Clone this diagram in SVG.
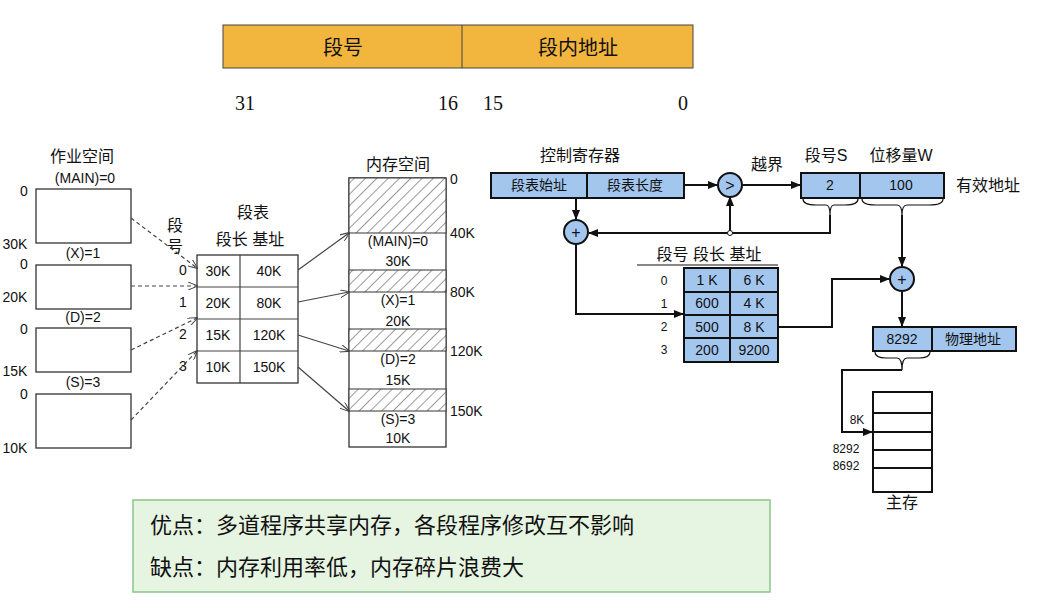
<svg xmlns="http://www.w3.org/2000/svg" width="1050" height="616" viewBox="0 0 1050 616">
<style>
text{font-family:"Liberation Sans","Noto Sans CJK SC",sans-serif;fill:#111;text-anchor:middle}
.s{font-size:14px}.m{font-size:16px}.b{font-weight:bold}
.box{fill:#fff;stroke:#333;stroke-width:1.3}
.blue{fill:#a3c6ee;stroke:#111;stroke-width:2}
.ln{stroke:#111;stroke-width:2;fill:none}
.thin{stroke:#444;stroke-width:1.2;fill:none}
.dash{stroke:#444;stroke-width:1.2;fill:none;stroke-dasharray:4 3}
</style>
<defs>
<pattern id="h" width="8" height="8" patternUnits="userSpaceOnUse" patternTransform="rotate(45)"><rect width="8" height="8" fill="#fff"/><line x1="0" y1="0" x2="0" y2="8" stroke="#555" stroke-width="1.2"/></pattern>
<marker id="a" markerWidth="10" markerHeight="8" refX="9" refY="4" orient="auto" markerUnits="userSpaceOnUse"><path d="M0,0L10,4L0,8z" fill="#111"/></marker>
<marker id="o" markerWidth="10" markerHeight="8" refX="9" refY="4" orient="auto" markerUnits="userSpaceOnUse"><path d="M0,0L10,4L0,8" fill="none" stroke="#444"/></marker>
</defs>
<rect width="1050" height="616" fill="#fff"/>
<g id="format">
<rect x="223" y="25" width="470" height="43" fill="#f2b53e" stroke="#444"/>
<line x1="462" y1="25" x2="462" y2="68" stroke="#444"/>
<text x="343" y="55" style="font-size:20px">段号</text>
<text x="578" y="55" style="font-size:20px">段内地址</text>
<text x="245" y="110" style="font-family:'Liberation Serif',serif;font-size:20px">31</text><text x="448" y="110" style="font-family:'Liberation Serif',serif;font-size:20px">16</text><text x="493" y="110" style="font-family:'Liberation Serif',serif;font-size:20px">15</text><text x="683" y="110" style="font-family:'Liberation Serif',serif;font-size:20px">0</text>
</g>
<g id="jobspace" class="s">
<text x="82" y="162" class="m">作业空间</text>
<text x="85" y="183">(MAIN)=0</text>
<rect class="box" x="36" y="189" width="95" height="54"/>
<text x="83" y="258">(X)=1</text>
<rect class="box" x="36" y="265" width="95" height="44"/>
<text x="83" y="322">(D)=2</text>
<rect class="box" x="36" y="328" width="95" height="44"/>
<text x="83" y="387">(S)=3</text>
<rect class="box" x="36" y="394" width="95" height="54"/>
<text x="24" y="196">0</text><text x="15" y="249">30K</text>
<text x="24" y="269">0</text><text x="15" y="302">20K</text>
<text x="24" y="334">0</text><text x="15" y="376">15K</text>
<text x="24" y="399">0</text><text x="15" y="453">10K</text>
</g>
<g id="segtable" class="s">
<text x="253" y="218" class="m">段表</text>
<text x="250" y="245" class="m">段长 基址</text>
<text x="175" y="231" class="m">段</text><text x="175" y="252" class="m">号</text>
<rect class="box" x="197" y="255" width="101" height="128"/>
<line class="thin" x1="240" y1="255" x2="240" y2="383"/>
<line class="thin" x1="197" y1="287" x2="298" y2="287"/><line class="thin" x1="197" y1="319" x2="298" y2="319"/><line class="thin" x1="197" y1="351" x2="298" y2="351"/>
<text x="183" y="275">0</text><text x="183" y="307">1</text><text x="183" y="339">2</text><text x="183" y="371">3</text>
<text x="218" y="276">30K</text><text x="269" y="276">40K</text>
<text x="218" y="308">20K</text><text x="269" y="308">80K</text>
<text x="218" y="340">15K</text><text x="269" y="340">120K</text>
<text x="218" y="372">10K</text><text x="269" y="372">150K</text>
</g>
<g id="memory" class="s">
<text x="398" y="170" class="m">内存空间</text>
<rect class="box" x="349" y="178" width="97" height="269"/>
<rect x="349" y="178" width="97" height="55" fill="url(#h)" stroke="#333"/>
<rect x="349" y="270" width="97" height="22" fill="url(#h)" stroke="#333"/>
<rect x="349" y="329" width="97" height="22" fill="url(#h)" stroke="#333"/>
<rect x="349" y="389" width="97" height="22" fill="url(#h)" stroke="#333"/>
<text x="398" y="246">(MAIN)=0</text><text x="398" y="266">30K</text>
<text x="398" y="305">(X)=1</text><text x="398" y="326">20K</text>
<text x="398" y="364">(D)=2</text><text x="398" y="385">15K</text>
<text x="398" y="424">(S)=3</text><text x="398" y="443">10K</text>
<text x="450" y="184" style="text-anchor:start">0</text><text x="450" y="238" style="text-anchor:start">40K</text><text x="450" y="297" style="text-anchor:start">80K</text><text x="450" y="356" style="text-anchor:start">120K</text><text x="450" y="416" style="text-anchor:start">150K</text>
</g>
<g id="connectors">
<path class="dash" d="M131,218L197,268" marker-end="url(#o)"/>
<path class="dash" d="M131,286L197,286" marker-end="url(#o)"/>
<path class="dash" d="M131,350L197,318" marker-end="url(#o)"/>
<path class="dash" d="M131,420L197,351" marker-end="url(#o)"/>
<path class="thin" d="M298,270L349,233" marker-end="url(#o)"/>
<path class="thin" d="M298,302L349,292" marker-end="url(#o)"/>
<path class="thin" d="M298,335L349,351" marker-end="url(#o)"/>
<path class="thin" d="M298,367L349,411" marker-end="url(#o)"/>
<path class="ln" d="M684,185L717,185" marker-end="url(#a)"/>
<path class="ln" d="M742,185L800,185" marker-end="url(#a)"/>
<path class="ln" d="M830,215L830,233L589,233" marker-end="url(#a)"/>
<path class="ln" d="M730,233L730,197" marker-end="url(#a)"/>
<circle cx="730" cy="233" r="2.5" fill="#fff" stroke="#111"/>
<path class="ln" d="M576,198L576,219" marker-end="url(#a)"/>
<path class="ln" d="M576,245L576,314L683,314" marker-end="url(#a)"/>
<path class="ln" d="M778,327L832,327L832,279L889,279" marker-end="url(#a)"/>
<path class="ln" d="M902,215L902,266" marker-end="url(#a)"/>
<path class="ln" d="M902,292L902,326" marker-end="url(#a)"/>
<path class="ln" d="M902,370L842,370L842,432L872,432" marker-end="url(#a)"/>
<path class="thin" style="stroke:#111" d="M803,199Q803,205 816,205L826,205Q830,205 830,215Q830,205 834,205L845,205Q858,205 858,199"/>
<path class="thin" style="stroke:#111" d="M862,199Q862,205 876,205L897,205Q902,205 902,215Q902,205 907,205L929,205Q943,205 943,199"/>
<path class="thin" style="stroke:#111" d="M875,352Q875,358 886,358L897,358Q902,358 902,370Q902,358 907,358L919,358Q930,358 930,352"/>
</g>
<g id="ctrlreg" class="s">
<text x="580" y="161" class="m">控制寄存器</text>
<rect class="blue" x="491" y="173" width="193" height="25"/>
<line class="ln" x1="587" y1="173" x2="587" y2="198"/>
<text x="539" y="190">段表始址</text><text x="635" y="190">段表长度</text>
</g>
<g id="comparator"><circle class="blue" cx="730" cy="185" r="12"/><text x="730" y="191" class="m">&gt;</text><text x="767" y="170" class="m">越界</text></g>
<g id="adder1"><circle class="blue" cx="576" cy="232" r="12"/><text x="576" y="238" class="m">+</text></g>
<g id="adder2"><circle class="blue" cx="902" cy="279" r="12"/><text x="902" y="285" class="m">+</text></g>
<g id="effaddr" class="s">
<text x="826" y="161" class="m">段号S</text><text x="901" y="161" class="m">位移量W</text>
<rect class="blue" x="801" y="173" width="143" height="25"/>
<line class="ln" x1="860" y1="173" x2="860" y2="198"/>
<text x="830" y="190">2</text><text x="901" y="190">100</text>
<text x="988" y="191" class="m">有效地址</text>
</g>
<g id="table2" class="s">
<text x="709" y="260" class="m">段号 段长 基址</text>
<line class="thin" style="stroke:#111" x1="637" y1="265" x2="778" y2="265"/>
<rect class="blue" x="684" y="268" width="94" height="94"/>
<line class="ln" x1="730" y1="268" x2="730" y2="362"/>
<line class="ln" x1="684" y1="292" x2="778" y2="292"/><line class="ln" x1="684" y1="315" x2="778" y2="315"/><line class="ln" x1="684" y1="338" x2="778" y2="338"/>
<text x="664" y="285" style="font-size:12px">0</text><text x="664" y="308" style="font-size:12px">1</text><text x="664" y="331" style="font-size:12px">2</text><text x="664" y="354" style="font-size:12px">3</text>
<text x="707" y="285">1 K</text><text x="754" y="285">6 K</text>
<text x="707" y="308">600</text><text x="754" y="308">4 K</text>
<text x="707" y="332">500</text><text x="754" y="332">8 K</text>
<text x="707" y="355">200</text><text x="754" y="355">9200</text>
</g>
<g id="physaddr" class="s">
<rect class="blue" x="873" y="327" width="143" height="24"/>
<line class="ln" x1="932" y1="327" x2="932" y2="351"/>
<text x="902" y="344">8292</text><text x="973" y="344">物理地址</text>
</g>
<g id="mainmem" class="s">
<rect x="873" y="392" width="59" height="100" fill="#fff" stroke="#111" stroke-width="2"/>
<line class="ln" x1="873" y1="413" x2="932" y2="413"/><line class="ln" x1="873" y1="432" x2="932" y2="432"/><line class="ln" x1="873" y1="450" x2="932" y2="450"/><line class="ln" x1="873" y1="468" x2="932" y2="468"/>
<text x="857" y="424" style="font-size:12px">8K</text>
<text x="846" y="453" style="font-size:12px">8292</text><text x="846" y="470" style="font-size:12px">8692</text>
<text x="902" y="508" class="m">主存</text>
</g>
<g id="note">
<rect x="133" y="500" width="637" height="92" fill="#e6f4e2" stroke="#8cc48a" stroke-width="1.5"/>
<text x="150" y="533" style="font-size:22px;text-anchor:start">优点：多道程序共享内存，各段程序修改互不影响</text>
<text x="150" y="575" style="font-size:22px;text-anchor:start">缺点：内存利用率低，内存碎片浪费大</text>
</g>
</svg>
